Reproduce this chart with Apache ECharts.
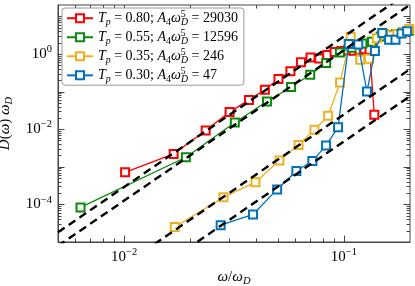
<!DOCTYPE html>
<html><head><meta charset="utf-8">
<script src="https://cdn.jsdelivr.net/npm/echarts@6/dist/echarts.min.js"></script>
<style>html,body{margin:0;padding:0;background:#fff}#c{width:415px;height:286px}</style>
</head><body><div id="c"></div>
<script>
// ---- data ----
const seriesNames = ['Tp=0.80', 'Tp=0.55', 'Tp=0.35', 'Tp=0.30'];
const legendTp = ['0.80', '0.55', '0.35', '0.30'];
const legendA = ['29030', '12596', '246', '47'];
const seriesColors = ['#ff0000', '#0a8a0a', '#edb120', '#0072bd'];

const redX = [0.0101, 0.0168, 0.0235, 0.0302, 0.0370, 0.0437, 0.0504, 0.0571, 0.0638, 0.0705, 0.0772, 0.0840, 0.0907, 0.0974, 0.1041, 0.1108, 0.1175, 0.1242, 0.1309, 0.1376];
const redY = [7.1e-4, 2.2e-3, 9.2e-3, 0.0284, 0.060, 0.112, 0.215, 0.344, 0.60, 0.80, 0.76, 0.93, 1.12, 1.19, 1.26, 1.22, 1.30, 1.34, 1.30, 0.024];

const greenX = [0.00633, 0.0191, 0.0319, 0.0447, 0.0575, 0.0703, 0.0831, 0.0959, 0.1087, 0.1215, 0.1343, 0.1471, 0.1599, 0.1727, 0.1855, 0.1983];
const greenY = [8.3e-5, 1.79e-3, 0.015, 0.0545, 0.132, 0.28, 0.575, 1.1, 1.45, 1.9, 2.1, 2.9, 3.2, 3.4, 3.8, 4.2];

const yellowX = [0.0170, 0.0283, 0.0396, 0.0509, 0.0622, 0.0735, 0.0848, 0.0961, 0.1074, 0.1187, 0.1300, 0.1413, 0.1526, 0.1639, 0.1752, 0.1865, 0.1978];
const yellowY = [2.5e-5, 1.54e-4, 3.9e-4, 1.46e-3, 3.8e-3, 9.6e-3, 0.0226, 0.175, 2.84, 0.70, 0.74, 2.6, 3.4, 3.1, 3.4, 3.9, 4.6];

const blueX = [0.0275, 0.0386, 0.0497, 0.0608, 0.0719, 0.0830, 0.0941, 0.1052, 0.1163, 0.1274, 0.1385, 0.1496, 0.1607, 0.1718, 0.1829, 0.1940];
const blueY = [2.8e-5, 5.4e-5, 2.5e-4, 7.7e-4, 1.43e-3, 3.65e-3, 0.0113, 1.85, 1.77, 0.10, 1.2, 3.6, 2.4, 2.4, 3.5, 4.0];

// dashed omega^4 guide lines (end points read at the plot's x limits)
const guideX = [0.005, 0.2];
const guide29030 = [1.81e-5, 46.4];
const guide12596 = [7.87e-6, 20.2];
const guide246 = [1.54e-7, 0.394];
const guide47 = [2.94e-8, 0.0752];

const xTickLabels = [0.01, 0.1];
const yTickLabels = [1e-4, 1e-2, 1];

// ---- chart ----
const xMin = 0.005, xMax = 0.2, yMin = 1e-5, yMax = 20;
const F = '"Liberation Serif", "DejaVu Serif", serif';
const AX = '#444';
const MAJ = 6.5, MIN = 3.5;

function zip(xs, ys) { return xs.map((x, i) => [x, ys[i]]); }
function logTicks(lo, hi) {
  const out = [];
  for (let e = Math.floor(Math.log10(lo)) - 1; e <= Math.ceil(Math.log10(hi)); e++) {
    for (let m = 1; m <= 9; m++) {
      const v = m * Math.pow(10, e);
      if (v > lo * 1.0001 && v < hi * 0.9999) out.push([v, m === 1 ? MAJ : MIN]);
    }
  }
  return out;
}

function mkRich(fs) {
  const s = fs * 0.7;
  return {
    n: { fontFamily: F, fontSize: fs, color: '#000' },
    i: { fontFamily: F, fontSize: fs, fontStyle: 'italic', color: '#000' },
    sub: { fontFamily: F, fontSize: s, fontStyle: 'italic', color: '#000', padding: [fs * 0.55, 0, 0, 0] },
    subn: { fontFamily: F, fontSize: s, color: '#000', padding: [fs * 0.55, 0, 0, 0] },
    sup: { fontFamily: F, fontSize: s, color: '#000', padding: [0, 0, fs * 0.6, 0] },
    supz: { fontFamily: F, fontSize: s, color: '#000', padding: [0, 0, fs * 0.6, 0], width: 0.1 }
  };
}
const richMath = mkRich(15);
const legendRich = mkRich(14);

function expLabel(v) {
  const e = Math.log10(v);
  const r = Math.round(e);
  if (Math.abs(e - r) > 1e-6) return '';
  return '{n|10}{sup|' + (r < 0 ? '\u2212' + (-r) : r) + '}';
}

const xTicks = logTicks(xMin, xMax);
const yTicks = logTicks(yMin, yMax);

const dataSeries = [redX, greenX, yellowX, blueX].map((xs, k) => ({
  type: 'line', name: seriesNames[k],
  data: zip(xs, [redY, greenY, yellowY, blueY][k]),
  xAxisIndex: 0, yAxisIndex: 0,
  symbol: 'emptyRect', symbolSize: 8,
  lineStyle: { color: seriesColors[k], width: 1.3 },
  itemStyle: { color: seriesColors[k], borderWidth: 1.3 },
  z: 2 + k * 0.01, animation: false
}));
const guideSeries = [guide29030, guide12596, guide246, guide47].map(g => ({
  type: 'line', data: zip(guideX, g), xAxisIndex: 0, yAxisIndex: 0,
  symbol: 'none', silent: true,
  lineStyle: { color: '#000', width: 2.4, type: [8, 5] }, z: 3, animation: false
}));

// tick marks on all four sides (matplotlib style: inward, major + minor)
function tickStyle() { return { stroke: AX, lineWidth: 1 }; }
const xTickSeries = {
  type: 'custom', silent: true, z: 1, clip: false, animation: false,
  data: xTicks.map(t => [t[0], yMin, t[1]]),
  encode: { x: 0, y: 1 },
  renderItem: (params, api) => {
    const v = api.value(0), len = api.value(2);
    const b = api.coord([v, yMin]), t = api.coord([v, yMax]);
    const bx = Math.round(b[0]) + 0.5;
    return { type: 'group', children: [
      { type: 'line', shape: { x1: bx, y1: b[1], x2: bx, y2: b[1] - len }, style: tickStyle() },
      { type: 'line', shape: { x1: bx, y1: t[1], x2: bx, y2: t[1] + len }, style: tickStyle() }
    ] };
  }
};
const yTickSeries = {
  type: 'custom', silent: true, z: 1, clip: false, animation: false,
  data: yTicks.map(t => [xMin, t[0], t[1]]),
  encode: { x: 0, y: 1 },
  renderItem: (params, api) => {
    const v = api.value(1), len = api.value(2);
    const l = api.coord([xMin, v]), r = api.coord([xMax, v]);
    const ly = Math.round(l[1]) + 0.5;
    return { type: 'group', children: [
      { type: 'line', shape: { x1: l[0], y1: ly, x2: l[0] + len, y2: ly }, style: tickStyle() },
      { type: 'line', shape: { x1: r[0], y1: ly, x2: r[0] - len, y2: ly }, style: tickStyle() }
    ] };
  }
};

const legendMap = {};
seriesNames.forEach((n, k) => {
  legendMap[n] = '{i|T}{sub|p}{n| = ' + legendTp[k] + '; }{i|A}{subn|4}{i|\u03c9}{supz|5}{sub|D}{n| = ' + legendA[k] + '}';
});

const option = {
  animation: false,
  backgroundColor: '#fff',
  grid: { left: 58, right: 5, top: 5, bottom: 44, containLabel: false, outerBoundsMode: 'none',
          show: true, borderColor: AX, borderWidth: 1, backgroundColor: 'transparent' },
  legend: {
    data: seriesNames, orient: 'vertical', left: 62, top: 8,
    itemWidth: 26, itemHeight: 10, itemGap: 1,
    padding: [1, 6, 1, 4],
    borderColor: '#999', borderWidth: 1, borderRadius: 3, backgroundColor: '#fff',
    formatter: n => legendMap[n],
    textStyle: { fontFamily: F, fontSize: 14, lineHeight: 16, rich: legendRich }
  },
  xAxis: [{
    type: 'log', logBase: 10, min: xMin, max: xMax, position: 'bottom',
    axisLine: { show: true, onZero: false, lineStyle: { color: AX, width: 1 } },
    axisTick: { show: false }, splitLine: { show: false }, minorTick: { show: false },
    axisLabel: { margin: 5, formatter: v => xTickLabels.some(t => Math.abs(Math.log10(t) - Math.log10(v)) < 1e-6) ? expLabel(v) : '', rich: richMath, showMinLabel: false, showMaxLabel: false },
    name: '{i|\u03c9}{n|/}{i|\u03c9}{sub|D}', nameLocation: 'middle', nameGap: 25,
    nameTextStyle: { rich: richMath }
  }],
  yAxis: [{
    type: 'log', logBase: 10, min: yMin, max: yMax, position: 'left',
    axisLine: { show: true, onZero: false, lineStyle: { color: AX, width: 1 } },
    axisTick: { show: false }, splitLine: { show: false }, minorTick: { show: false },
    axisLabel: { margin: 6, formatter: v => yTickLabels.some(t => Math.abs(Math.log10(t) - Math.log10(v)) < 1e-6) ? expLabel(v) : '', rich: richMath, showMinLabel: false, showMaxLabel: false },
    name: '{i|D}{n|(}{i|\u03c9}{n|) }{i|\u03c9}{sub|D}', nameLocation: 'middle', nameGap: 34,
    nameTextStyle: { rich: richMath }
  }],
  series: [xTickSeries, yTickSeries].concat(dataSeries, guideSeries)
};

const chart = echarts.init(document.getElementById('c'), null, { renderer: 'canvas' });
chart.setOption(option);
</script>
</body></html>
